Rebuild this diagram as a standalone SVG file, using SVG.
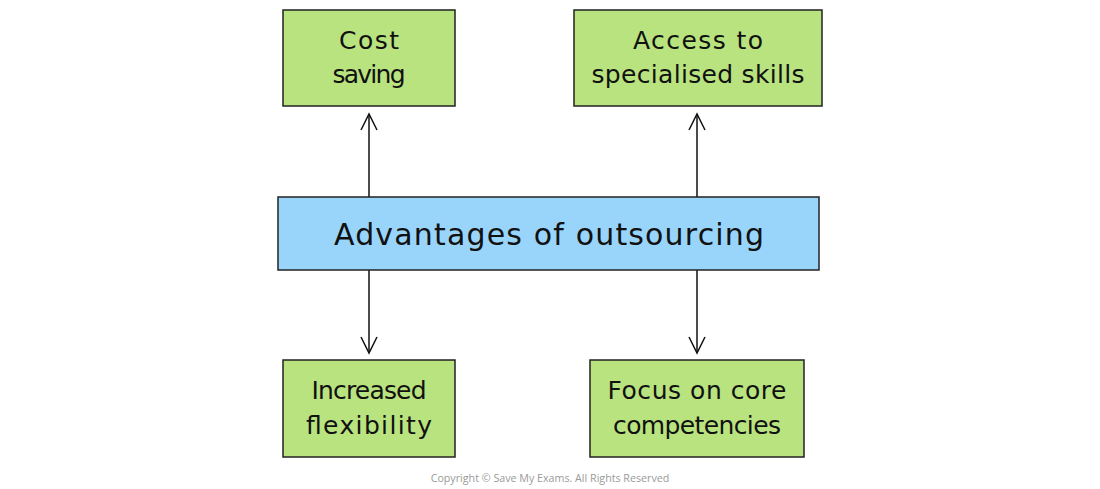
<svg xmlns="http://www.w3.org/2000/svg" width="1100" height="489" viewBox="0 0 1100 489">
<style>
.g{fill:#b9e37f;stroke:#222;stroke-width:1.5}
.b{fill:#99d5fb;stroke:#222;stroke-width:1.5}
.t{font-family:"DejaVu Sans","Noto Sans",sans-serif;font-size:25px;fill:#111;text-anchor:middle}
.c{font-family:"DejaVu Sans","Noto Sans",sans-serif;font-size:30px;fill:#111;text-anchor:middle}
.l{stroke:#111;stroke-width:1.5;fill:none}
.cp{font-family:"Open Sans","Liberation Sans",sans-serif;font-size:10.7px;fill:#9a9a9a;text-anchor:middle}
</style>
<defs>
<marker id="ah" viewBox="0 0 20 20" refX="18" refY="10" markerWidth="20" markerHeight="20" markerUnits="userSpaceOnUse" orient="auto">
<path d="M2,2 L18,10 L2,18" fill="none" stroke="#111" stroke-width="1.5"/>
</marker>
</defs>
<g id="connectors">
<line class="l" x1="369" y1="197" x2="369" y2="114" marker-end="url(#ah)"/>
<line class="l" x1="697" y1="197" x2="697" y2="114" marker-end="url(#ah)"/>
<line class="l" x1="369" y1="270" x2="369" y2="353" marker-end="url(#ah)"/>
<line class="l" x1="697" y1="270" x2="697" y2="353" marker-end="url(#ah)"/>
</g>
<g id="cost-saving">
<rect class="g" x="283" y="10" width="172" height="96"/>
<text class="t" x="369" y="49" textLength="60" lengthAdjust="spacing">Cost</text>
<text class="t" x="369" y="83" textLength="73" lengthAdjust="spacing">saving</text>
</g>
<g id="access-skills">
<rect class="g" x="574" y="10" width="248" height="96"/>
<text class="t" x="698" y="49" textLength="130" lengthAdjust="spacing">Access to</text>
<text class="t" x="698" y="83" textLength="213" lengthAdjust="spacing">specialised skills</text>
</g>
<g id="advantages">
<rect class="b" x="278" y="197" width="541" height="73"/>
<text class="c" x="549" y="245" textLength="430" lengthAdjust="spacing">Advantages of outsourcing</text>
</g>
<g id="flexibility">
<rect class="g" x="283" y="360" width="172" height="97"/>
<text class="t" x="369" y="399" textLength="115" lengthAdjust="spacing">Increased</text>
<text class="t" x="369" y="434" textLength="126" lengthAdjust="spacing">flexibility</text>
</g>
<g id="core-competencies">
<rect class="g" x="590" y="360" width="214" height="97"/>
<text class="t" x="697" y="399" textLength="179" lengthAdjust="spacing">Focus on core</text>
<text class="t" x="697" y="434" textLength="168" lengthAdjust="spacing">competencies</text>
</g>
<text class="cp" x="550" y="482">Copyright © Save My Exams. All Rights Reserved</text>
</svg>
